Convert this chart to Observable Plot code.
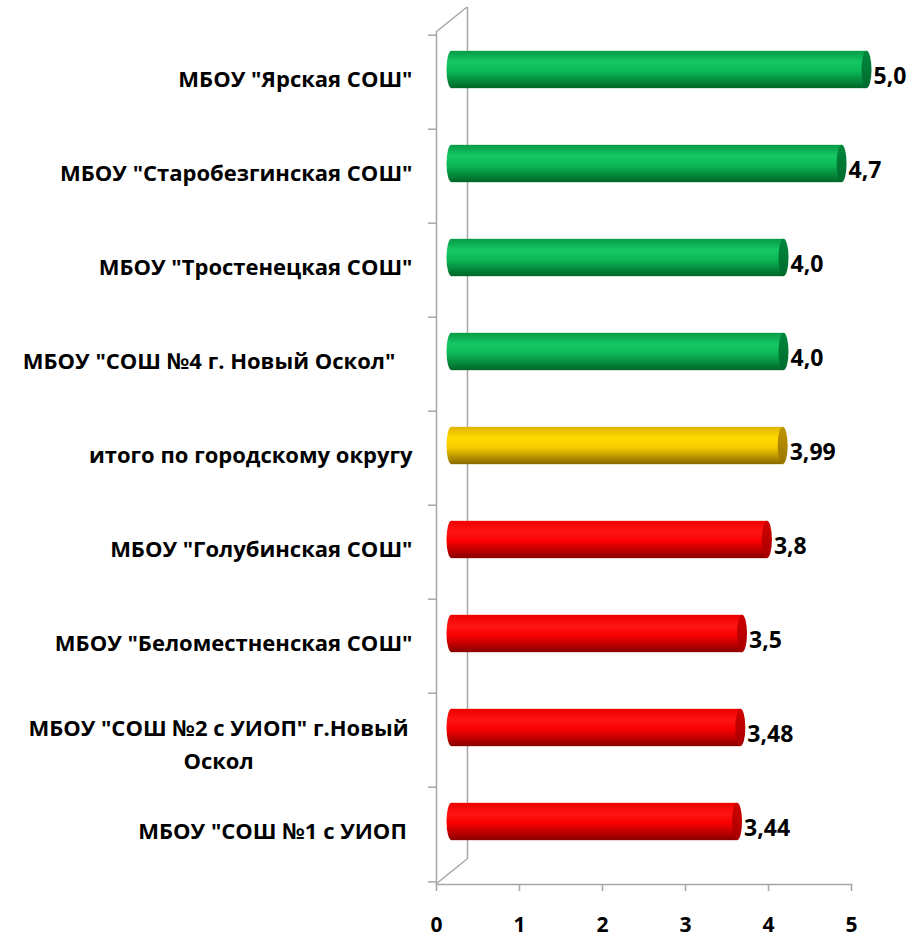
<!DOCTYPE html>
<html><head><meta charset="utf-8">
<script src="https://cdn.jsdelivr.net/npm/d3@7"></script>
<script src="https://cdn.jsdelivr.net/npm/@observablehq/plot@0.6"></script>
<style>body{margin:0;background:#fff;} #chart{width:923px;height:939px;}</style>
</head><body><div id="chart"></div>
<script>
const categories = ['МБОУ "Ярская СОШ"', 'МБОУ "Старобезгинская СОШ"', 'МБОУ "Тростенецкая СОШ"', 'МБОУ "СОШ №4 г. Новый Оскол"', 'итого по городскому округу', 'МБОУ "Голубинская СОШ"', 'МБОУ "Беломестненская СОШ"', 'МБОУ "СОШ №2 с УИОП" г.Новый Оскол', 'МБОУ "СОШ №1 с УИОП'];
const displayLabels = ['МБОУ "Ярская СОШ"', 'МБОУ "Старобезгинская СОШ"', 'МБОУ "Тростенецкая СОШ"', 'МБОУ "СОШ №4 г. Новый Оскол"\u00a0\u00a0\u00a0', 'итого по городскому округу', 'МБОУ "Голубинская СОШ"', 'МБОУ "Беломестненская СОШ"', 'МБОУ "СОШ №2 с УИОП" г.Новый\nОскол', 'МБОУ "СОШ №1 с УИОП\u00a0'];
const values = [5.0, 4.7, 4.0, 4.0, 3.99, 3.8, 3.5, 3.48, 3.44];
const valueLabels = ["5,0", "4,7", "4,0", "4,0", "3,99", "3,8", "3,5", "3,48", "3,44"];
const groups = ["green", "green", "green", "green", "yellow", "red", "red", "red", "red"];
const xTicks = [0, 1, 2, 3, 4, 5];

const data = categories.map((c, i) => ({c, v: values[i], lab: valueLabels[i], disp: displayLabels[i], g: groups[i]}));

const W = 923, H = 939, mL = 436, mR = 72, mT = 32, mB = 55;
const bw = (H - mT - mB) / categories.length;
const depthX = 31, depthY = -25;
const barH = 38, inset = (bw - barH) / 2;
const gray = "#a6a6a6";
const font = "'Open Sans', sans-serif";

const barMarks = [];
for (const g of ["green", "yellow", "red"]) {
  const f = d => d.g === g;
  barMarks.push(
    Plot.barX(data, {filter: f, x1: 0, x2: 0, y: "c", insetLeft: -5, insetRight: -5, insetTop: inset, insetBottom: inset, rx: 5, ry: barH / 2, dx: depthX / 2, dy: depthY / 2, fill: `url(#body-${g})`}),
    Plot.barX(data, {filter: f, x1: 0, x2: "v", y: "c", insetTop: inset, insetBottom: inset, dx: depthX / 2, dy: depthY / 2, fill: `url(#body-${g})`}),
    Plot.barX(data, {filter: f, x1: "v", x2: "v", y: "c", insetLeft: -5, insetRight: -5, insetTop: inset, insetBottom: inset, rx: 5, ry: barH / 2, dx: depthX / 2, dy: depthY / 2, fill: `url(#cap-${g})`})
  );
}

const single = data.filter(d => !d.disp.includes("\n"));
const multi = data.filter(d => d.disp.includes("\n"));

const plot = Plot.plot({
  width: W, height: H,
  marginLeft: mL, marginRight: mR, marginTop: mT, marginBottom: mB,
  style: {background: "white", fontFamily: font},
  x: {domain: [0, 5], axis: null},
  y: {domain: categories, axis: null, padding: 0},
  marks: [
    Plot.ruleX([0], {stroke: gray, strokeWidth: 1.5, dx: depthX, dy: depthY}),
    Plot.ruleX([0], {stroke: gray, strokeWidth: 1.5}),
    Plot.ruleY(categories, {y: d => d, x1: 0, x2: 0, insetLeft: -8, dy: -bw / 2, stroke: gray, strokeWidth: 1.5}),
    Plot.ruleY([categories[categories.length - 1]], {y: d => d, x1: 0, x2: 0, insetLeft: -8, dy: bw / 2, stroke: gray, strokeWidth: 1.5}),
    Plot.frame({anchor: "bottom", stroke: gray, strokeWidth: 1.5}),
    Plot.axisX({ticks: xTicks, label: null, tickSize: 7, tickPadding: 26, stroke: gray, strokeWidth: 1.5, fill: "black", fontSize: 21, fontWeight: "bold", tickFormat: d => String(d)}),
    ...barMarks,
    Plot.text(data, {x: "v", y: "c", text: "lab", dx: 22, dy: -6, textAnchor: "start", fontSize: 23, fontWeight: "bold", fill: "black"}),
    Plot.text(single, {x: 0, y: "c", text: "disp", dx: -24, dy: -3, textAnchor: "end", fontSize: 22, fontWeight: "bold", fill: "black"}),
    Plot.text(multi, {x: 0, y: "c", text: "disp", dx: -218, dy: 1, textAnchor: "middle", lineHeight: 1.5, fontSize: 22, fontWeight: "bold", fill: "black"})
  ]
});

const svg = d3.select(plot);
const defs = svg.insert("defs", ":first-child");
const grads = {
  "body-green": [["0", "#079a45"], ["0.3", "#14c864"], ["0.55", "#0cb856"], ["1", "#006528"]],
  "cap-green": [["0", "#00883d"], ["1", "#006a2d"]],
  "body-yellow": [["0", "#e2b300"], ["0.3", "#ffdb00"], ["0.55", "#f7cc00"], ["1", "#8a6800"]],
  "cap-yellow": [["0", "#bf9600"], ["1", "#9a7600"]],
  "body-red": [["0", "#ee0000"], ["0.3", "#ff1414"], ["0.55", "#f80000"], ["1", "#8a0000"]],
  "cap-red": [["0", "#d00000"], ["1", "#a80000"]]
};
for (const [id, stops] of Object.entries(grads)) {
  const lg = defs.append("linearGradient").attr("id", id).attr("x1", 0).attr("y1", 0).attr("x2", 0).attr("y2", 1);
  for (const [o, c] of stops) lg.append("stop").attr("offset", o).attr("stop-color", c);
}
// 3D wall diagonals, positioned from the plot's own scales
const xs = plot.scale("x"), ys = plot.scale("y");
const x0 = xs.apply(0);
const yTop = ys.range[0], yBot = ys.range[1];
const g = svg.insert("g", "g[aria-label='bar']").attr("stroke", gray).attr("stroke-width", 1.5);
g.append("line").attr("x1", x0).attr("y1", yTop).attr("x2", x0 + depthX).attr("y2", yTop + depthY);
g.append("line").attr("x1", x0).attr("y1", yBot).attr("x2", x0 + depthX).attr("y2", yBot + depthY);

document.getElementById("chart").appendChild(plot);
</script>
</body></html>
